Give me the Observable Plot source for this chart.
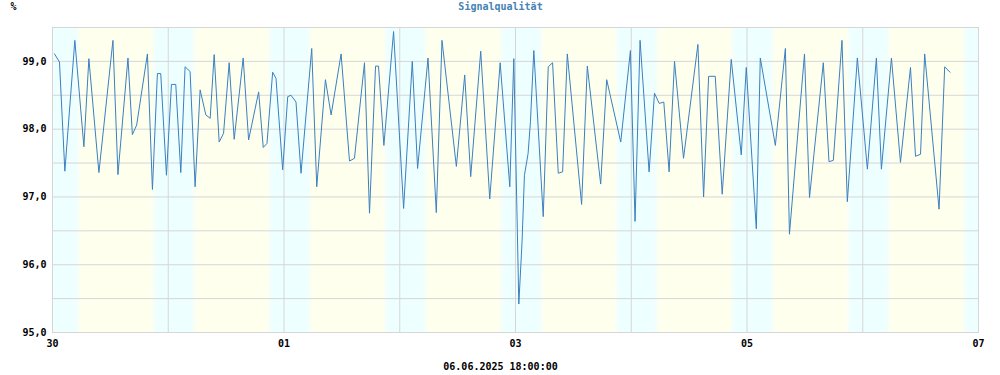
<!DOCTYPE html>
<html><head><meta charset="utf-8">
<script src="https://cdn.jsdelivr.net/npm/d3@7"></script>
<script src="https://cdn.jsdelivr.net/npm/@observablehq/plot@0.6"></script>
<style>body{margin:0;background:#fff} svg{display:block}</style>
</head><body><div id="chart"></div>
<script>
const title = "Signalqualität";
const unit = "%";
const footer = "06.06.2025 18:00:00";
const startMs = Date.UTC(2025, 4, 30);   // 30.05.2025 00:00
const totalDays = 8;                    // until 07.06.2025 00:00

// hours since 30.05. 00:00
const hours = [0.42,1.45,2.56,4.63,6.51,7.54,9.62,12.53,13.57,15.65,16.56,17.45,19.68,20.72,21.75,22.44,23.63,
  24.66,25.56,26.60,27.49,28.53,29.57,30.61,31.79,32.69,33.52,34.56,35.47,36.63,37.67,39.54,40.66,42.74,43.70,44.47,45.65,46.34,47.73,
  48.77,49.45,50.49,51.53,53.75,54.79,56.59,57.77,59.84,61.58,62.61,64.69,65.73,66.98,67.60,68.71,70.72,
  72.80,74.60,75.70,77.86,79.58,80.76,83.74,85.47,86.71,88.79,90.66,92.82,94.82,95.65,
  96.69,97.36,97.85,98.61,99.10,99.80,101.75,102.79,103.69,104.87,105.77,106.74,109.71,110.89,113.66,114.91,117.82,119.83,
  120.79,121.83,123.70,124.82,125.80,126.75,127.85,128.97,130.84,133.82,135.00,136.04,137.42,138.86,140.73,142.81,
  143.85,145.93,146.76,149.88,151.96,152.80,155.92,156.96,159.82,161.00,161.90,163.69,164.80,166.88,
  168.96,170.83,171.87,173.95,175.82,177.90,178.94,179.98,180.84,183.82,184.99,186.10];
const quality = [99.11,98.99,97.38,99.31,97.74,99.04,97.36,99.31,97.33,99.05,97.92,98.06,99.11,97.11,98.82,98.82,97.32,
  98.66,98.66,97.36,98.92,98.85,97.15,98.58,98.21,98.16,99.10,97.81,97.94,98.98,97.85,99.05,97.84,98.55,97.73,97.79,98.84,98.75,97.40,
  98.48,98.50,98.40,97.35,99.19,97.15,98.73,98.21,99.11,97.53,97.57,98.98,96.76,98.93,98.93,97.76,99.44,
  96.83,99.00,97.42,99.05,96.77,99.31,97.45,98.80,97.30,99.15,96.97,98.98,97.15,99.04,
  95.42,96.34,97.32,97.64,98.11,99.16,96.71,98.92,98.98,97.35,97.37,99.11,96.89,98.93,97.19,98.73,97.81,99.16,
  96.64,99.31,97.37,98.53,98.38,98.40,97.37,99.00,97.57,99.25,97.00,98.78,98.78,97.04,99.03,97.62,
  98.91,96.53,99.05,97.76,99.19,96.45,99.11,96.99,98.98,97.52,97.54,99.31,96.93,99.05,
  97.41,99.05,97.41,99.05,97.51,98.91,97.60,97.63,99.11,96.82,98.92,98.84];

const yTicks = [95, 96, 97, 98, 99];
const yGrid = [95, 95.5, 96, 96.5, 97, 97.5, 98, 98.5, 99, 99.5];
const xLabelDays = [0, 2, 4, 6, 8];
const xGridDays = [1, 2, 3, 4, 5, 6, 7];
// dawn / dusk transitions (hour of day)
const dawnStart = 4.8, dawnEnd = 6.1, duskStart = 20.5, duskEnd = 21.7;
const nightColor = "#eeffff", dayColor = "#ffffee";

const toDate = h => new Date(startMs + h * 3600e3);
const series = hours.map((h, i) => ({t: toDate(h), v: quality[i]}));

// background bands built from dawn/dusk times
const mix = d3.interpolateRgb(nightColor, dayColor);
function colorAt(hd) {
  if (hd < dawnStart || hd >= duskEnd) return nightColor;
  if (hd < dawnEnd) return mix((hd - dawnStart) / (dawnEnd - dawnStart));
  if (hd < duskStart) return dayColor;
  return mix(1 - (hd - duskStart) / (duskEnd - duskStart));
}
const bands = [];
const step = 5 / 60;
for (let h = 0; h < totalDays * 24 - 1e-9; h += step) {
  const c = colorAt(((h % 24) + 24) % 24 + step / 2);
  const last = bands[bands.length - 1];
  if (last && last.c === c) last.h2 = h + step;
  else bands.push({h1: h, h2: h + step, c});
}
bands.forEach(b => { b.x1 = toDate(b.h1); b.x2 = toDate(Math.min(b.h2 + 0.02, totalDays * 24)); });

const gridColor = "#d6d6d6";
const font = "DejaVu Sans Mono";

const chart = Plot.plot({
  width: 1000, height: 375,
  marginLeft: 52, marginRight: 22, marginTop: 27, marginBottom: 43,
  style: {fontFamily: font, fontSize: "10px", background: "#fff"},
  x: {type: "utc", domain: [toDate(0), toDate(totalDays * 24)]},
  y: {domain: [95, 99.5]},
  color: {type: "identity"},
  marks: [
    Plot.rect(bands, {x1: "x1", x2: "x2", fill: "c", shapeRendering: "crispEdges"}),
    Plot.gridY(yGrid, {stroke: gridColor, strokeOpacity: 1}),
    Plot.gridX(xGridDays.map(d => toDate(d * 24)), {stroke: gridColor, strokeOpacity: 1}),
    Plot.frame({stroke: gridColor}),
    Plot.axisY(yTicks, {tickSize: 0, tickPadding: 6, fontWeight: "bold", fontSize: 10, fill: "#000",
      tickFormat: d => d.toFixed(1).replace(".", ","), label: null}),
    Plot.axisX(xLabelDays.map(d => toDate(d * 24)), {tickSize: 0, tickPadding: 7, fontWeight: "bold", fontSize: 10, fill: "#000",
      tickFormat: d3.utcFormat("%d"), label: null}),
    Plot.line(series, {x: "t", y: "v", stroke: "#3a80c0", strokeWidth: 1}),
    Plot.text([title], {frameAnchor: "top", dx: -15, dy: -21, lineAnchor: "middle", fill: "#4682b4", fontWeight: "bold", fontSize: 10}),
    Plot.text([unit], {frameAnchor: "top-left", dx: -39, dy: -21, textAnchor: "middle", lineAnchor: "middle", fill: "#000", fontWeight: "bold", fontSize: 10}),
    Plot.text([footer], {frameAnchor: "bottom", dx: -15, dy: 34, lineAnchor: "middle", fill: "#000", fontWeight: "bold", fontSize: 10})
  ]
});
document.getElementById("chart").appendChild(chart);
</script>
</body></html>
